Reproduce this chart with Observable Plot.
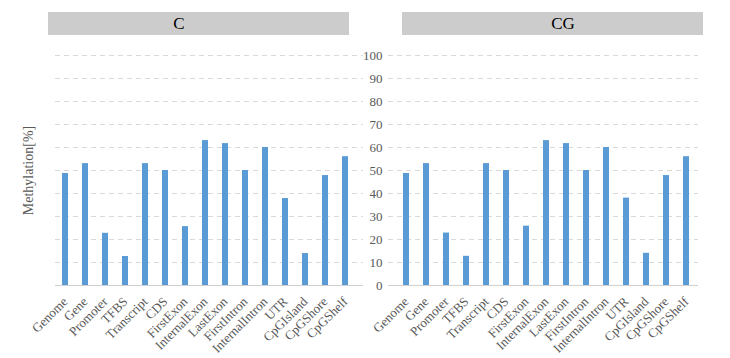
<!DOCTYPE html>
<html>
<head>
<meta charset="utf-8">
<script src="https://cdn.jsdelivr.net/npm/d3@7"></script>
<script src="https://cdn.jsdelivr.net/npm/@observablehq/plot@0.6"></script>
<style>
  html, body { margin: 0; padding: 0; background: #fff; }
  #wrap { position: relative; width: 730px; height: 358px; overflow: hidden; font-family: "Liberation Serif", "DejaVu Serif", serif; }
  #wrap svg { position: absolute; left: 0; top: 0; background: transparent; }
  #wrap svg, #wrap svg text { font-family: "Liberation Serif", "DejaVu Serif", serif !important; }
  .hdr { position: absolute; top: 12px; height: 23px; background: #cccccc; }
  .hdrText { position: absolute; top: 12px; height: 23px; line-height: 23px; font-size: 17px; color: #000; transform: translateX(-50%); white-space: nowrap; }
</style>
</head>
<body>
<div id="wrap"></div>
<script>
const categories = ["Genome","Gene","Promoter","TFBS","Transcript","CDS","FirstExon","InternalExon","LastExon","FirstIntron","InternalIntron","UTR","CpGIsland","CpGShore","CpGShelf"];
const valuesC  = [48.7, 53, 22.7, 12.6, 53, 50, 25.6, 63, 61.7, 50, 60, 37.8, 13.9, 47.8, 56];
const valuesCG = [48.7, 53, 22.8, 12.7, 53, 50, 25.8, 63, 61.7, 50, 60, 38, 14, 47.8, 56];
const panelTitles = ["C", "CG"];
const yTicks = [0,10,20,30,40,50,60,70,80,90,100];
const gridTicks = [10,20,30,40,50,60,70,80,90,100];

const font = "'Liberation Serif', serif";
const wrap = document.getElementById("wrap");

function panel(values, opts) {
  const data = categories.map((c, i) => ({cat: c, v: values[i]}));
  return Plot.plot({
    width: 730,
    height: 358,
    marginTop: 55,
    marginBottom: 73,
    marginLeft: opts.ml,
    marginRight: opts.mr,
    style: {fontFamily: font, background: "transparent", overflow: "visible"},
    x: {domain: categories, range: opts.xr, paddingInner: 0.68, paddingOuter: 0.68, label: null},
    y: {domain: [0, 100], label: null},
    marks: [
      Plot.gridY(gridTicks, {stroke: "#d9d9d9", strokeOpacity: 1, strokeDasharray: "5,4"}),
      Plot.ruleY([0], {stroke: "#d0d0d0", strokeWidth: 1.2}),
      Plot.barY(data, {x: "cat", y: "v", fill: "#5b9bd5"}),
      Plot.axisX({tickRotate: -45, tickSize: 0, tickPadding: 14, fontSize: 13, fill: "#595959", label: null}),
      opts.showY
        ? Plot.axisY(yTicks, {tickSize: 0, tickPadding: 6, fontSize: 13, fill: "#595959", label: null})
        : Plot.axisY([], {label: null}),
      opts.ylabel
        ? Plot.text([opts.ylabel], {frameAnchor: "left", textAnchor: "middle", dx: -(opts.ml - 28), rotate: -90, fontSize: 14, fill: "#595959"})
        : null
    ]
  });
}

const left = panel(valuesC, {ml: 55, mr: 367, xr: [48, 362.7], showY: false, ylabel: "Methylation[%]"});
const right = panel(valuesCG, {ml: 388, mr: 32, xr: [389, 703.7], showY: true, ylabel: null});
wrap.appendChild(left);
wrap.appendChild(right);

const headers = [
  {x0: 48, x1: 349, tx: 179},
  {x0: 402, x1: 703, tx: 563}
];
headers.forEach((h, i) => {
  const b = document.createElement("div");
  b.className = "hdr";
  b.style.left = h.x0 + "px";
  b.style.width = (h.x1 - h.x0) + "px";
  wrap.appendChild(b);
  const t = document.createElement("div");
  t.className = "hdrText";
  t.style.left = h.tx + "px";
  t.textContent = panelTitles[i];
  wrap.appendChild(t);
});
</script>
</body>
</html>
